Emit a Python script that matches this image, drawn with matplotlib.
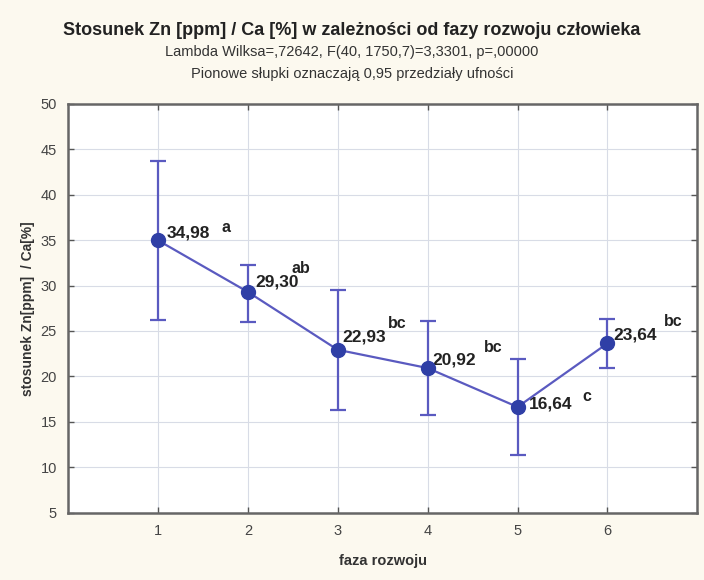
import matplotlib
matplotlib.use('Agg')
import matplotlib.pyplot as plt

# dane
faza = [1, 2, 3, 4, 5, 6]
srednia = [34.98, 29.30, 22.93, 20.92, 16.64, 23.64]
gorna = [43.7, 32.3, 29.5, 26.1, 21.9, 26.3]
dolna = [26.2, 26.0, 16.3, 15.8, 11.3, 20.9]
wartosci = ['34,98', '29,30', '22,93', '20,92', '16,64', '23,64']
litery = ['a', 'ab', 'bc', 'bc', 'c', 'bc']

# przesuniecia etykiet w pikselach
off_val = [(9, 7), (8, 10), (5, 13), (5, 8), (11, 3), (6, 8)]
off_lit = [(64, 13), (44, 23), (50, 26), (56, 21), (65, 10), (56, 22)]

plt.rcParams['font.family'] = ['Liberation Sans', 'DejaVu Sans']

fig = plt.figure(figsize=(7.04, 5.8), dpi=100)
fig.patch.set_facecolor('#fcf9ef')
ax = fig.add_axes([0.0966, 0.116, 0.894, 0.705])
ax.set_facecolor('white')

err = [[m - d for m, d in zip(srednia, dolna)], [g - m for m, g in zip(srednia, gorna)]]
ax.errorbar(faza, srednia, yerr=err, color='#5a5ac0', lw=1.6, elinewidth=1.6,
            capsize=6, capthick=1.6, marker='o', markersize=10,
            markerfacecolor='#2f3fa6', markeredgecolor='#2f3fa6', zorder=3)

for i in range(len(faza)):
    ax.annotate(wartosci[i], xy=(faza[i], srednia[i]), xytext=off_val[i],
                textcoords='offset pixels', fontsize=12.5, fontweight='bold',
                ha='left', va='center', color='#222222')
    ax.annotate(litery[i], xy=(faza[i], srednia[i]), xytext=off_lit[i],
                textcoords='offset pixels', fontsize=11.5, fontweight='bold',
                ha='left', va='center', color='#222222')

ax.set_xlim(0, 7)
ax.set_ylim(5, 50)
ax.set_xticks(faza)
ax.set_yticks(range(5, 51, 5))
ax.grid(True, color='#d8dce6', lw=0.8)
ax.set_axisbelow(True)
ax.tick_params(direction='in', top=True, right=True, length=4, width=1,
               color='#555555', labelsize=10.5, labelcolor='#444444', pad=8)
for s in ax.spines.values():
    s.set_color('#666666')
    s.set_linewidth(1.8)

ax.set_xlabel('faza rozwoju', fontsize=10.5, fontweight='bold',
              color='#333333', labelpad=12)
ax.set_ylabel('stosunek Zn[ppm]  / Ca[%]', fontsize=10, fontweight='bold',
              color='#333333', labelpad=4)

fig.text(0.5, 0.948, 'Stosunek Zn [ppm] / Ca [%] w zależności od fazy rozwoju człowieka',
         ha='center', va='center', fontsize=13, fontweight='bold', color='#222222')
fig.text(0.5, 0.91, 'Lambda Wilksa=,72642, F(40, 1750,7)=3,3301, p=,00000',
         ha='center', va='center', fontsize=10.5, color='#333333')
fig.text(0.5, 0.872, 'Pionowe słupki oznaczają 0,95 przedziały ufności',
         ha='center', va='center', fontsize=10.5, color='#333333')

fig.savefig('out.png', dpi=100, facecolor=fig.get_facecolor())
